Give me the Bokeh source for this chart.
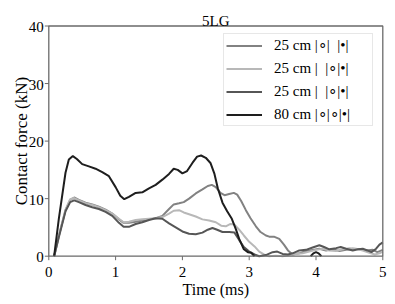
import math
from bokeh.plotting import figure
from bokeh.embed import file_html
from bokeh.resources import INLINE
from bokeh.models import Legend, LegendItem, Label, Range1d

title_text = "5LG"
x_label = "Time (ms)"
y_label = "Contact force (kN)"
x_ticks = [0, 1, 2, 3, 4, 5]
y_ticks = [0, 10, 20, 30, 40]

labels = ["25 cm |∘|  |•|", "25 cm |  |∘|•|", "25 cm |  |∘|•|", "80 cm |∘|∘|•|"]
colors = ["#828282", "#b8b8b8", "#565656", "#1e1e1e"]

nan = float("nan")

t_a = [0.08, 0.15, 0.25, 0.32, 0.38, 0.45, 0.55, 0.65, 0.75, 0.85, 0.95, 1.05, 1.12, 1.2, 1.3, 1.4,
       1.5, 1.6, 1.7, 1.8, 1.87, 1.95, 2.02, 2.1, 2.2, 2.3, 2.38, 2.44, 2.5, 2.57, 2.63, 2.7, 2.77,
       2.82, 2.88, 2.95, 3.02, 3.1, 3.17, 3.25, 3.3, 3.37, 3.45, 3.52, 3.58, 3.65, 3.75, 3.85, 3.95,
       4.05, 4.15, 4.25, 4.35, 4.45, 4.55, 4.65, 4.75, 4.85, 4.92, 5.0]
f_a = [0, 3.5, 8.0, 9.8, 10.2, 9.8, 9.3, 9.0, 8.6, 8.1, 7.4, 6.4, 5.8, 5.8, 6.0, 6.2,
       6.4, 6.6, 7.0, 8.2, 9.0, 9.2, 9.4, 10.0, 10.9, 11.6, 12.2, 12.4, 12.0, 11.0, 10.6, 10.8, 11.0,
       10.7, 9.6, 8.0, 6.6, 5.2, 4.2, 3.6, 3.4, 3.4, 3.0, 2.0, 1.0, 0.3, 0.5, 0.9, 1.1,
       1.3, 1.0, 1.2, 0.9, 1.1, 1.3, 1.2, 1.0, 1.1, 0.7, 1.1]

t_b = [0.08, 0.15, 0.25, 0.32, 0.38, 0.45, 0.55, 0.65, 0.75, 0.85, 0.95, 1.05, 1.12, 1.2, 1.3, 1.4,
       1.5, 1.6, 1.7, 1.8, 1.87, 1.95, 2.02, 2.1, 2.2, 2.3, 2.4, 2.5, 2.58, 2.65, 2.72, 2.78, 2.85,
       2.92, 3.0, 3.08, 3.15, 3.22, 3.3, 3.4, 3.5, 3.6, 3.7, 3.8, 3.9, 4.0, 4.1, 4.2, 4.3, 4.4, 4.5,
       4.6, 4.7, 4.8, 4.88, 4.95, 5.0]
f_b = [0, 3.5, 8.1, 9.9, 10.1, 9.7, 9.2, 8.9, 8.5, 8.0, 7.4, 6.5, 5.9, 6.0, 6.3, 6.4,
       6.5, 6.6, 6.8, 7.4, 7.9, 8.0, 7.6, 7.3, 6.9, 6.4, 6.2, 5.9, 5.3, 5.2, 5.6, 5.5, 4.6,
       3.6, 2.5, 1.7, 0.8, 0.3, 0.0, 0.1, 0.0, 0.2, 0.4, 0.5, 0.8, 1.1, 1.3, 1.0, 0.9, 1.2, 1.4,
       1.3, 1.0, 0.6, 0.3, 0.5, 0.8]

t_c = [0.08, 0.15, 0.25, 0.32, 0.38, 0.45, 0.55, 0.65, 0.75, 0.85, 0.95, 1.05, 1.12, 1.2, 1.3, 1.4,
       1.5, 1.6, 1.7, 1.8, 1.9, 2.0, 2.1, 2.2, 2.3, 2.38, 2.45, 2.52, 2.6, 2.7, 2.78, 2.85, 2.92,
       3.0, 3.08, 3.15, 3.25, 3.35, 3.42, 3.5, 3.58, 3.65, 3.75, 3.85, 3.95, 4.05, 4.12, 4.2, 4.3,
       4.37, 4.45, 4.55, 4.63, 4.7, 4.77, 4.83, 4.9, 4.95, 5.0]
f_c = [0, 3.3, 7.8, 9.4, 9.7, 9.4, 8.9, 8.5, 8.2, 7.7, 7.0, 5.8, 5.1, 5.1, 5.6, 5.9,
       6.3, 6.6, 6.5, 5.7, 5.0, 4.3, 3.9, 3.8, 4.1, 4.6, 4.9, 4.6, 4.2, 4.2, 4.1, 2.8, 1.6,
       0.8, 0.3, 0.0, 0.2, 0.7, 0.8, 0.4, 0.3, 0.5, 1.0, 1.1, 1.5, 1.9, 1.6, 1.2, 1.4,
       1.6, 1.3, 1.0, 1.2, 1.3, 1.0, 0.7, 1.3, 2.0, 2.4]

# 80 cm: visible parts only (the curve dips below 0 kN, outside the axes, between them)
t_d = [0.08, 0.15, 0.25, 0.3, 0.36, 0.42, 0.5, 0.6, 0.7, 0.8, 0.9, 1.0, 1.07, 1.13, 1.2, 1.3,
       1.4, 1.5, 1.6, 1.7, 1.8, 1.87, 1.93, 2.0, 2.07, 2.15, 2.22, 2.28, 2.35, 2.42, 2.48, 2.53,
       2.6, 2.67, 2.74, 2.8, 2.85, 2.92, 2.98, 3.03, 3.08, 3.09, 3.92, 3.96, 4.0, 4.04, 4.08]
f_d = [0, 6.5, 14.5, 16.8, 17.4, 16.9, 16.0, 15.6, 15.2, 14.6, 13.9, 12.0, 10.5, 9.9, 10.3, 11.0,
       11.1, 11.8, 12.4, 13.3, 14.3, 15.2, 15.0, 14.4, 14.8, 16.2, 17.3, 17.5, 17.1, 16.2, 14.3, 11.8,
       9.3, 7.8, 6.5, 4.7, 3.0, 1.2, 0.7, 0.6, 0.0, nan, 0.0, 0.5, 0.7, 0.5, 0.0]

series_t = [t_a, t_b, t_c, t_d]
series_f = [f_a, f_b, f_c, f_d]

FONT = "Liberation Serif"
AX = "#6a6a6a"

# canvas geometry (pixels): axes box inside the canvas
W, H = 392, 300
left_px, right_px, top_px, bottom_px = 48.3, 382.3, 25.5, 255.7
x0, x1 = x_ticks[0], x_ticks[-1]
y0, y1 = y_ticks[0], y_ticks[-1]
sx = (right_px - left_px) / (x1 - x0)
sy = (bottom_px - top_px) / (y1 - y0)
x_range = Range1d(x0 - left_px / sx, x1 + (W - right_px) / sx)
y_range = Range1d(y0 - (H - bottom_px) / sy, y1 + top_px / sy)

p = figure(width=W, height=H, x_range=x_range, y_range=y_range,
           x_axis_type=None, y_axis_type=None,
           output_backend="svg", toolbar_location=None, min_border=0)
p.grid.visible = False
p.outline_line_color = None
p.background_fill_color = "white"
p.border_fill_color = "white"

# series
items = []
for lab, col, tt, ff in zip(labels, colors, series_t, series_f):
    r = p.line(tt, ff, line_color=col, line_width=2)
    items.append(LegendItem(label=lab, renderers=[r]))

# axes box and ticks
p.rect(x=(x0 + x1) / 2, y=(y0 + y1) / 2, width=x1 - x0, height=y1 - y0,
       fill_color=None, line_color=AX, line_width=1.3)
tick_len = 4
p.segment(x0=x_ticks, y0=[y0] * len(x_ticks), x1=x_ticks,
          y1=[y0 - tick_len / sy] * len(x_ticks), line_color=AX, line_width=1)
p.segment(x0=[x0] * len(y_ticks), y0=y_ticks, x1=[x0 - tick_len / sx] * len(y_ticks),
          y1=y_ticks, line_color=AX, line_width=1)

for t in x_ticks:
    p.add_layout(Label(x=t, y=y0, text=str(t), y_offset=-16, text_align="center",
                       text_baseline="alphabetic", text_font=FONT, text_font_size="15px",
                       text_color="black"))
for t in y_ticks:
    p.add_layout(Label(x=x0, y=t, text=str(t), x_offset=-5, y_offset=-1, text_align="right",
                       text_baseline="middle", text_font=FONT, text_font_size="15px",
                       text_color="black"))
p.add_layout(Label(x=(x0 + x1) / 2, y=y0, text=x_label, y_offset=-33.5, text_align="center",
                   text_baseline="alphabetic", text_font=FONT, text_font_size="16px",
                   text_color="black"))
p.add_layout(Label(x=x0, y=(y0 + y1) / 2, text=y_label, x_offset=-27, angle=math.pi / 2,
                   text_align="center", text_baseline="alphabetic", text_font=FONT,
                   text_font_size="17px", text_color="black"))
p.add_layout(Label(x=(x0 + x1) / 2, y=y1, text=title_text, y_offset=5.5, text_align="center",
                   text_baseline="alphabetic", text_font=FONT, text_font_size="15px",
                   text_color="black"))

# legend: bottom-left corner given in pixels from the canvas bottom-left
legend = Legend(items=items, location=(223, H - 126))
legend.padding = 2
legend.spacing = 5
legend.glyph_width = 36
legend.glyph_height = 17
legend.label_standoff = 12
legend.label_height = 17
legend.label_width = 96
legend.label_text_font = FONT
legend.label_text_font_size = "15px"
legend.label_text_color = "black"
legend.border_line_color = "#d0d0d0"
legend.border_line_width = 1
legend.background_fill_alpha = 1.0
p.add_layout(legend, "center")

open("out.html", "w").write(file_html(p, INLINE))
